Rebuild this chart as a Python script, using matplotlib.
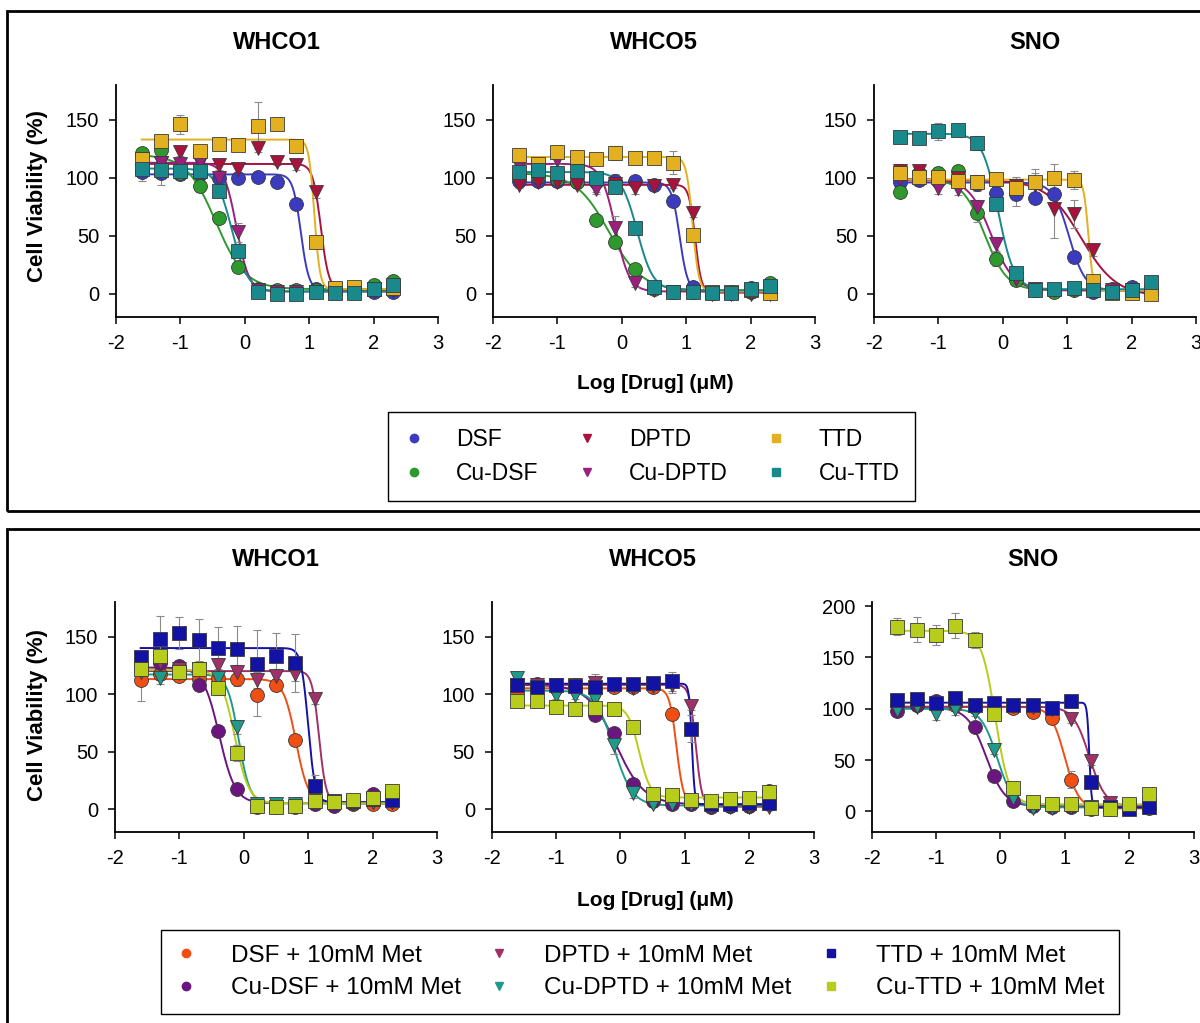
import numpy as np
import matplotlib
matplotlib.use("Agg")
from matplotlib import pyplot as plt
from matplotlib.lines import Line2D
from matplotlib.patches import Rectangle

plt.rcParams['font.family'] = ['Liberation Sans', 'DejaVu Sans']
plt.rcParams['axes.unicode_minus'] = False

# log10 concentration (uM), two-fold dilution series
log_dose = [-1.6, -1.3, -1.0, -0.7, -0.4, -0.1, 0.2, 0.5, 0.8, 1.1, 1.4, 1.7, 2.0, 2.3]

drugs = ['DSF', 'Cu-DSF', 'DPTD', 'Cu-DPTD', 'TTD', 'Cu-TTD']
drug_colors = ['#3b3bbf', '#2e9a2e', '#a8123c', '#9c1f80', '#e3b020', '#19898c']
met_drugs = ['DSF + 10mM Met', 'Cu-DSF + 10mM Met', 'DPTD + 10mM Met',
             'Cu-DPTD + 10mM Met', 'TTD + 10mM Met', 'Cu-TTD + 10mM Met']
met_colors = ['#f04e12', '#6b1580', '#a03068', '#1f9b8c', '#1212a5', '#b8cc1c']
markers = ['o', 'o', 'v', 'v', 's', 's']
cell_lines = ['WHCO1', 'WHCO5', 'SNO']

# mean viability (%), one row per drug
whco1_mean = [
    [105, 104, 103, 103, 100, 100, 101, 96, 77, 4, 2, 2, 2, 2],
    [121, 124, 104, 93, 65, 23, 4, 3, 3, 3, 3, 4, 8, 11],
    [112, 113, 122, 113, 111, 108, 126, 114, 111, 88, 4, 2, 3, 3],
    [116, 113, 112, 114, 100, 53, 3, 2, 2, 2, 2, 2, 3, 3],
    [116, 132, 146, 123, 129, 128, 145, 146, 127, 45, 5, 6, 4, 5],
    [108, 107, 106, 106, 89, 37, 2, 0, 0, 2, 1, 1, 4, 8],
]
whco1_sem = [
    [8, 10, 4, 3, 3, 3, 3, 2, 3, 2, 1, 1, 1, 1],
    [5, 3, 3, 5, 3, 2, 2, 2, 1, 1, 1, 1, 2, 2],
    [4, 4, 3, 4, 4, 5, 4, 3, 4, 5, 1, 1, 1, 1],
    [4, 4, 5, 3, 4, 8, 2, 1, 1, 1, 1, 1, 1, 1],
    [4, 3, 8, 3, 3, 5, 20, 2, 5, 3, 2, 2, 1, 2],
    [3, 4, 4, 3, 5, 3, 2, 1, 1, 1, 1, 1, 2, 2],
]
# fitted top, bottom, logIC50, hill slope
whco1_fit = [(103, 3, 0.87, 7), (120, 4, -0.45, 1.9), (112, 3, 1.18, 7),
             (113, 2, -0.13, 4.5), (133, 4, 1.08, 10), (108, 2, -0.2, 3.5)]

whco5_mean = [
    [97, 97, 97, 96, 96, 97, 97, 94, 80, 6, 1, 1, 2, 2],
    [102, 101, 99, 96, 64, 45, 21, 4, 2, 2, 1, 2, 5, 9],
    [94, 96, 96, 94, 92, 95, 91, 93, 94, 70, 0, 0, 0, 0],
    [110, 109, 115, 110, 90, 57, 9, 3, 2, 2, 1, 1, 1, 1],
    [120, 112, 122, 118, 116, 121, 117, 117, 113, 51, 2, 2, 3, 1],
    [105, 107, 104, 106, 100, 92, 57, 6, 2, 2, 1, 1, 4, 7],
]
whco5_sem = [
    [3, 3, 3, 3, 3, 3, 4, 3, 4, 2, 1, 1, 1, 1],
    [3, 3, 3, 3, 4, 3, 3, 2, 1, 1, 1, 1, 1, 2],
    [3, 3, 3, 3, 4, 8, 5, 3, 3, 4, 1, 1, 1, 1],
    [3, 3, 3, 3, 4, 10, 3, 2, 1, 1, 1, 1, 1, 1],
    [3, 4, 5, 4, 4, 6, 3, 3, 10, 3, 1, 1, 1, 1],
    [3, 3, 3, 3, 3, 3, 3, 2, 1, 1, 1, 1, 2, 2],
]
whco5_fit = [(96, 2, 0.9, 7), (104, 3, -0.2, 1.7), (94, 1, 1.14, 9),
             (112, 2, -0.1, 4), (118, 2, 1.1, 9), (105, 3, 0.24, 3.5)]

sno_mean = [
    [96, 98, 97, 100, 95, 87, 86, 83, 86, 32, 2, 4, 6, 3],
    [88, 104, 104, 106, 70, 30, 12, 3, 2, 3, 3, 3, 2, 2],
    [106, 106, 100, 100, 96, 98, 93, 94, 73, 69, 38, 2, 3, 1],
    [100, 100, 91, 90, 75, 43, 13, 4, 3, 3, 3, 3, 3, 3],
    [104, 101, 101, 97, 96, 99, 91, 96, 100, 98, 11, 1, 1, 0],
    [135, 134, 140, 141, 130, 77, 18, 3, 4, 5, 3, 2, 3, 10],
]
sno_sem = [
    [4, 4, 4, 4, 6, 8, 10, 4, 5, 4, 2, 1, 2, 1],
    [4, 5, 5, 5, 8, 6, 4, 2, 1, 1, 1, 1, 1, 1],
    [6, 5, 5, 5, 6, 6, 6, 10, 25, 12, 5, 1, 1, 1],
    [6, 5, 5, 5, 6, 6, 5, 2, 1, 1, 1, 1, 1, 1],
    [6, 6, 8, 5, 5, 5, 10, 12, 12, 8, 4, 1, 1, 1],
    [3, 5, 7, 2, 6, 5, 5, 2, 2, 2, 1, 1, 2, 3],
]
sno_fit = [(96, 3, 1.03, 3.5), (99, 3, -0.28, 2.5), (98, -2, 1.22, 1.6),
           (99, 3, -0.18, 2.5), (98.5, 3, 1.33, 12), (138, 4, -0.07, 3.5)]

# + 10 mM metformin
whco1_met_mean = [
    [112, 117, 116, 113, 114, 113, 99, 108, 60, 9, 4, 4, 4, 4],
    [122, 127, 124, 108, 68, 17, 2, 1.5, 2, 4, 3, 5, 13, 8],
    [122, 128, 122, 122, 125, 119, 112, 116, 117, 96, 6, 5, 6, 6],
    [119, 114, 118, 121, 114, 71, 4, 4, 4, 5, 5, 5, 6, 6],
    [132, 148, 153, 147, 140, 139, 126, 133, 127, 20, 7, 7, 9, 8],
    [122, 133, 119, 122, 105, 49, 3, 2, 3, 7, 6, 8, 10, 16],
]
whco1_met_sem = [
    [18, 5, 5, 5, 5, 6, 18, 5, 4, 2, 1, 1, 1, 1],
    [4, 4, 4, 4, 4, 3, 1, 1, 1, 1, 1, 1, 2, 2],
    [6, 6, 6, 6, 6, 6, 7, 6, 6, 5, 1, 1, 1, 1],
    [5, 5, 5, 5, 5, 6, 1, 1, 1, 1, 1, 1, 1, 1],
    [5, 20, 14, 18, 18, 20, 30, 20, 25, 10, 2, 1, 2, 2],
    [5, 5, 5, 5, 6, 7, 1, 1, 1, 2, 1, 1, 2, 2],
]
whco1_met_fit = [(113, 5, 0.81, 4.5), (123, 5, -0.38, 3.5), (120, 5, 1.17, 8),
                 (117, 5, -0.08, 5), (140, 6, 1.0, 8), (121, 5, -0.14, 4)]

whco5_met_mean = [
    [102, 104, 105, 105, 105, 106, 106, 106, 83, 5, 3, 3, 3, 4],
    [108, 109, 108, 108, 82, 66, 22, 7, 4, 4, 2, 3, 3, 16],
    [108, 108, 108, 108, 110, 108, 105, 107, 108, 90, 2, 2, 2, 2],
    [114, 98, 99, 99, 96, 56, 14, 4, 4, 4, 4, 3, 3, 4],
    [108, 106, 108, 107, 106, 109, 109, 110, 111, 70, 4, 4, 5, 5],
    [94, 94, 89, 87, 88, 87, 71, 13, 12, 8, 7, 9, 10, 15],
]
whco5_met_sem = [
    [3, 3, 3, 3, 3, 3, 3, 3, 3, 1, 1, 1, 1, 1],
    [3, 4, 3, 3, 5, 4, 3, 2, 1, 1, 1, 1, 1, 2],
    [3, 4, 3, 3, 7, 3, 3, 3, 7, 4, 1, 1, 1, 1],
    [3, 4, 3, 3, 3, 8, 4, 2, 1, 1, 1, 1, 1, 1],
    [3, 3, 3, 3, 3, 3, 3, 3, 8, 12, 1, 1, 1, 1],
    [3, 3, 2, 2, 2, 2, 3, 2, 2, 1, 1, 1, 1, 2],
]
whco5_met_fit = [(105, 4, 0.87, 8), (108, 4, -0.07, 2), (108, 2, 1.17, 9),
                 (103, 3, -0.1, 3), (109, 4, 1.11, 20), (90, 10, 0.29, 5)]

sno_met_mean = [
    [104, 104, 104, 104, 102, 101, 101, 97, 91, 31, 2, 2, 3, 3],
    [98, 104, 108, 106, 82, 35, 10, 5, 4, 4, 4, 5, 4, 10],
    [100, 102, 104, 102, 100, 102, 103, 102, 100, 90, 49, 8, 3, 5],
    [99, 103, 95, 100, 97, 60, 13, 3, 3, 4, 4, 4, 5, 6],
    [109, 110, 106, 111, 104, 106, 104, 104, 101, 108, 29, 4, 2, 4],
    [180, 177, 172, 181, 167, 95, 23, 9, 7, 7, 3, 2, 7, 17],
]
sno_met_sem = [
    [3, 3, 3, 3, 3, 5, 4, 3, 5, 8, 1, 1, 1, 1],
    [4, 4, 3, 4, 4, 3, 2, 2, 1, 1, 1, 1, 1, 2],
    [4, 4, 4, 4, 4, 5, 6, 5, 4, 4, 4, 2, 1, 1],
    [4, 4, 6, 6, 4, 4, 3, 2, 1, 1, 1, 1, 1, 1],
    [4, 4, 4, 4, 4, 4, 4, 4, 4, 3, 3, 1, 1, 1],
    [8, 12, 10, 12, 8, 6, 3, 2, 2, 2, 1, 1, 2, 3],
]
sno_met_fit = [(102, 3, 1.0, 4), (101, 5, -0.22, 3), (102, 5, 1.38, 3.5),
               (100, 4, -0.05, 3.5), (106, 4, 1.38, 25), (176, 7, -0.08, 4)]


def logistic(x, top, bottom, logic50, hill):
    return bottom + (top - bottom) / (1 + 10 ** ((x - logic50) * hill))


def draw_panel(ax, means, sems, fits, colors, ymax, yticks):
    xs = np.linspace(log_dose[0], log_dose[-1], 400)
    for i in range(len(means)):
        ax.plot(xs, logistic(xs, *fits[i]), color=colors[i], lw=1.4, zorder=2)
    for i in range(len(means)):
        ax.errorbar(log_dose, means[i], yerr=sems[i], fmt='none', ecolor='#8a8a8a',
                    elinewidth=0.8, capsize=3, capthick=0.8, zorder=3)
        ax.plot(log_dose, means[i], linestyle='none', marker=markers[i], ms=10,
                mfc=colors[i], mec='#3a3a3a', mew=0.6, zorder=4)
    ax.set_xlim(-2, 3)
    ax.set_ylim(-20, ymax)
    ax.set_xticks([-2, -1, 0, 1, 2, 3])
    ax.set_yticks(yticks)
    for s in ['top', 'right']:
        ax.spines[s].set_visible(False)
    for s in ['left', 'bottom']:
        ax.spines[s].set_linewidth(1.3)
    ax.tick_params(direction='out', length=5, width=1.1, labelsize=14.5, pad=7)


fig = plt.figure(figsize=(12, 10.23), dpi=100)

# outer frames around the two groups
fig.patches.append(Rectangle((0.0058, 0.5005), 1.05, 0.4888, transform=fig.transFigure,
                             fill=False, lw=2, ec='black'))
fig.patches.append(Rectangle((0.0058, -0.01), 1.05, 0.4929, transform=fig.transFigure,
                             fill=False, lw=2, ec='black'))

top_lefts = [0.0967, 0.4108, 0.7283]
bot_lefts = [0.0958, 0.4097, 0.7264]
w = 0.2683

top_data = [(whco1_mean, whco1_sem, whco1_fit), (whco5_mean, whco5_sem, whco5_fit),
            (sno_mean, sno_sem, sno_fit)]
bot_data = [(whco1_met_mean, whco1_met_sem, whco1_met_fit),
            (whco5_met_mean, whco5_met_sem, whco5_met_fit),
            (sno_met_mean, sno_met_sem, sno_met_fit)]

for k in range(3):
    ax = fig.add_axes([top_lefts[k], 0.6901, w, 0.2268])
    draw_panel(ax, *top_data[k], drug_colors, 180, [0, 50, 100, 150])
    fig.text(top_lefts[k] + w / 2, 0.958, cell_lines[k], ha='center', va='center',
             fontsize=17, fontweight='bold')
    if k == 0:
        fig.text(0.031, 0.808, 'Cell Viability (%)', rotation=90, ha='center',
                 va='center', fontsize=16, fontweight='bold')

for k in range(3):
    ax = fig.add_axes([bot_lefts[k], 0.1867, w, 0.2248])
    if k == 2:
        draw_panel(ax, *bot_data[k], met_colors, 204, [0, 50, 100, 150, 200])
    else:
        draw_panel(ax, *bot_data[k], met_colors, 180, [0, 50, 100, 150])
    fig.text(bot_lefts[k] + w / 2, 0.4535, cell_lines[k], ha='center', va='center',
             fontsize=17, fontweight='bold')
    if k == 0:
        fig.text(0.031, 0.301, 'Cell Viability (%)', rotation=90, ha='center',
                 va='center', fontsize=16, fontweight='bold')

fig.text(0.546, 0.6256, 'Log [Drug] (\u03bcM)', ha='center', va='center',
         fontsize=15, fontweight='bold')
fig.text(0.546, 0.120, 'Log [Drug] (\u03bcM)', ha='center', va='center',
         fontsize=15, fontweight='bold')


def legend_handles(labels, colors):
    return [Line2D([], [], linestyle='none', marker=markers[i], ms=6,
                   mfc=colors[i], mec=colors[i], label=labels[i])
            for i in range(len(labels))]


leg1 = fig.legend(handles=legend_handles(drugs, drug_colors), ncol=3,
                  loc='center', bbox_to_anchor=(0.5433, 0.5538), fontsize=16.5,
                  frameon=True, fancybox=False, edgecolor='black', framealpha=1,
                  handlelength=0.8, handletextpad=1.45, columnspacing=1.7,
                  labelspacing=0.5, borderpad=0.7)
leg1.get_frame().set_linewidth(1.0)

leg2 = fig.legend(handles=legend_handles(met_drugs, met_colors), ncol=3,
                  loc='center', bbox_to_anchor=(0.5333, 0.0499), fontsize=17.5,
                  frameon=True, fancybox=False, edgecolor='black', framealpha=1,
                  handlelength=0.8, handletextpad=1.45, columnspacing=1.2,
                  labelspacing=0.42, borderpad=0.6)
leg2.get_frame().set_linewidth(1.0)

fig.savefig('out.png', dpi=100)
